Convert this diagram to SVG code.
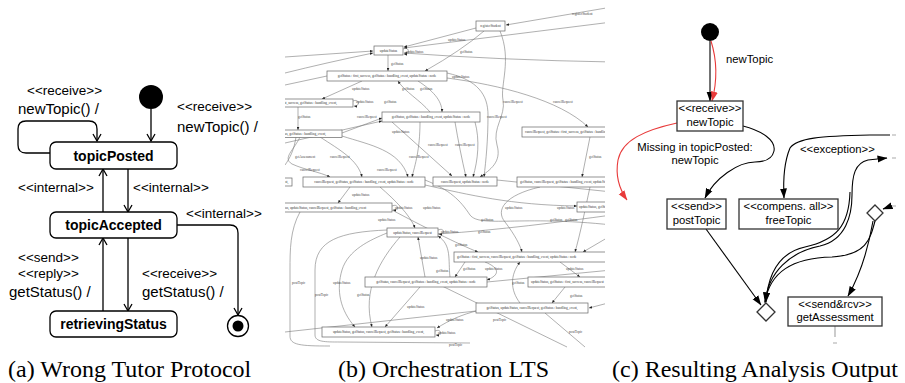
<svg xmlns="http://www.w3.org/2000/svg" width="905" height="383" viewBox="0 0 905 383">
<style>
.sans{font-family:"Liberation Sans",Arial,sans-serif;fill:#000}
.st{font-size:13.5px}
.lb{font-size:15px}
.bn{font-size:14px;font-weight:bold}
.ca{font-family:"Liberation Serif","Times New Roman",serif;font-size:24px;fill:#000}
.sa{fill:#fff;stroke:#000;stroke-width:1.3}
.ea{fill:none;stroke:#000;stroke-width:1.3}
.bb{fill:#fff;stroke:#666;stroke-width:0.7}
.bt{font-family:"Liberation Serif","Times New Roman",serif;font-size:3.4px;fill:#333}
.be{fill:none;stroke:#7a7a7a;stroke-width:0.6}
.bl{font-family:"Liberation Serif","Times New Roman",serif;font-size:3.4px;fill:#444}
.cb{fill:#fff;stroke:#333;stroke-width:1.3}
.ct{font-family:"Liberation Sans",Arial,sans-serif;font-size:11.3px;fill:#000}
.ce{fill:none;stroke:#000;stroke-width:1.1}
.cr{fill:none;stroke:#e83a3a;stroke-width:1.1}
.gd{stroke:#aaa;stroke-width:1.2}
</style>
<defs>
<marker id="va" viewBox="0 0 10 10" markerWidth="10" markerHeight="10" refX="8" refY="5" orient="auto" markerUnits="userSpaceOnUse"><path d="M1,1 L8,5 L1,9" fill="none" stroke="#000" stroke-width="1.3"/></marker>
<marker id="fa" viewBox="0 0 10 8" markerWidth="10" markerHeight="8" refX="9.5" refY="4" orient="auto" markerUnits="userSpaceOnUse"><path d="M0,0.5 L10,4 L0,7.5 z" fill="#000"/></marker>
<marker id="ra" viewBox="0 0 10 8" markerWidth="10" markerHeight="8" refX="9.5" refY="4" orient="auto" markerUnits="userSpaceOnUse"><path d="M0,0.5 L10,4 L0,7.5 z" fill="#e83a3a"/></marker>
<marker id="sa" viewBox="0 0 3 3" markerWidth="3" markerHeight="3" refX="3" refY="1.5" orient="auto" markerUnits="userSpaceOnUse"><path d="M0,0.2 L3,1.5 L0,2.8 z" fill="#222"/></marker>
<clipPath id="clipb"><rect x="285" y="0" width="320" height="352"/></clipPath>
</defs>

<!-- Panel (a) -->
<g id="a-connectors">
<path class="ea" d="M151,109 L151,141" marker-end="url(#va)"/>
<path class="ea" d="M50,153 L26,153 Q18,153 18,145 L18,129 Q18,121 26,121 L89,121 Q97,121 97,129 L97,141" marker-end="url(#va)"/>
<path class="ea" d="M103,212 L103,169" marker-end="url(#va)"/>
<path class="ea" d="M128,169 L128,212" marker-end="url(#va)"/>
<path class="ea" d="M103,311 L103,238" marker-end="url(#va)"/>
<path class="ea" d="M128,238 L128,311" marker-end="url(#va)"/>
<path class="ea" d="M177,225 L230,225 Q238,225 238,233 L238,315" marker-end="url(#va)"/>
</g>
<g id="a-labels" class="sans">
<text class="st" x="27" y="95">&lt;&lt;receive&gt;&gt;</text>
<text class="lb" x="18" y="114">newTopic() /</text>
<text class="st" x="177" y="111">&lt;&lt;receive&gt;&gt;</text>
<text class="lb" x="177" y="132">newTopic() /</text>
<text class="st" x="18" y="192">&lt;&lt;internal&gt;&gt;</text>
<text class="st" x="133" y="192">&lt;&lt;internal&gt;&gt;</text>
<text class="st" x="186" y="218">&lt;&lt;internal&gt;&gt;</text>
<text class="st" x="18" y="262">&lt;&lt;send&gt;&gt;</text>
<text class="st" x="18" y="278">&lt;&lt;reply&gt;&gt;</text>
<text class="lb" x="9" y="297">getStatus() /</text>
<text class="st" x="142" y="278">&lt;&lt;receive&gt;&gt;</text>
<text class="lb" x="142" y="297">getStatus() /</text>
</g>
<g id="a-initial"><circle cx="151" cy="97" r="12" fill="#000"/></g>
<g id="a-topicPosted"><rect class="sa" x="50" y="142" width="127" height="27" rx="6"/><text class="sans bn" x="113.5" y="161" text-anchor="middle">topicPosted</text></g>
<g id="a-topicAccepted"><rect class="sa" x="50" y="212" width="127" height="26" rx="6"/><text class="sans bn" x="113.5" y="230" text-anchor="middle">topicAccepted</text></g>
<g id="a-retrievingStatus"><rect class="sa" x="50" y="311" width="127" height="26" rx="6"/><text class="sans bn" x="113.5" y="329" text-anchor="middle">retrievingStatus</text></g>
<g id="a-final"><circle cx="238" cy="326" r="10.5" fill="#fff" stroke="#000" stroke-width="1.3"/><circle cx="238" cy="326" r="5.5" fill="#000"/></g>

<!-- Panel (b) -->
<g id="b-panel" clip-path="url(#clipb)">
<g id="b-connectors">
<path class="be" d="M612,7 L506,25" marker-end="url(#sa)"/>
<path class="be" d="M476,28 L404,47" marker-end="url(#sa)"/>
<path class="be" d="M484,31 Q462,50 425,71" marker-end="url(#sa)"/>
<path class="be" d="M500,31 C512,60 500,85 503,100 C506,116 492,128 497,145 C502,162 490,170 480,177" marker-end="url(#sa)"/>
<path class="be" d="M285,57 L373,51" marker-end="url(#sa)"/>
<path class="be" d="M285,73 Q325,63 373,53" marker-end="url(#sa)"/>
<path class="be" d="M612,22 L404,48" marker-end="url(#sa)"/>
<path class="be" d="M612,62 Q500,60 404,53" marker-end="url(#sa)"/>
<path class="be" d="M403,49 C410,46 410,55 404,54" marker-end="url(#sa)"/>
<path class="be" d="M388,55 L388,71" marker-end="url(#sa)"/>
<path class="be" d="M362,81 L322,99" marker-end="url(#sa)"/>
<path class="be" d="M430,112 C420,100 405,92 398,81" marker-end="url(#sa)"/>
<path class="be" d="M418,81 C432,90 442,100 442,112" marker-end="url(#sa)"/>
<path class="be" d="M298,107 L298,130" marker-end="url(#sa)"/>
<path class="be" d="M353,101 C360,98 360,107 354,106" marker-end="url(#sa)"/>
<path class="be" d="M447,78 C500,85 560,100 588,127" marker-end="url(#sa)"/>
<path class="be" d="M342,133 L382,118" marker-end="url(#sa)"/>
<path class="be" d="M327,76 L285,85"/>
<path class="be" d="M285,143 L382,121" marker-end="url(#sa)"/>
<path class="be" d="M455,122 C458,140 462,160 466,177" marker-end="url(#sa)"/>
<path class="be" d="M475,122 C480,140 478,160 473,177" marker-end="url(#sa)"/>
<path class="be" d="M447,73 C478,80 488,95 488,115 C488,140 486,160 484,177" marker-end="url(#sa)"/>
<path class="be" d="M300,137 C294,150 282,158 292,164 C305,170 320,172 330,177" marker-end="url(#sa)"/>
<path class="be" d="M320,137 C340,150 358,160 362,177" marker-end="url(#sa)"/>
<path class="be" d="M342,136 C370,145 400,150 408,177" marker-end="url(#sa)"/>
<path class="be" d="M296,137 C294,150 290,158 285,165"/>
<path class="be" d="M420,122 C420,150 415,165 412,177" marker-end="url(#sa)"/>
<path class="be" d="M392,122 L452,176" marker-end="url(#sa)"/>
<path class="be" d="M590,137 L582,177" marker-end="url(#sa)"/>
<path class="be" d="M350,187 L338,203" marker-end="url(#sa)"/>
<path class="be" d="M392,206 C399,203 399,211 393,210" marker-end="url(#sa)"/>
<path class="be" d="M380,187 C395,200 410,215 415,228" marker-end="url(#sa)"/>
<path class="be" d="M425,185 C470,195 510,205 577,206" marker-end="url(#sa)"/>
<path class="be" d="M540,187 C505,195 495,210 505,222 C515,235 520,245 522,252" marker-end="url(#sa)"/>
<path class="be" d="M590,187 C585,210 580,235 575,252" marker-end="url(#sa)"/>
<path class="be" d="M438,234 C500,230 560,222 612,215"/>
<path class="be" d="M392,210 C420,225 460,245 478,252" marker-end="url(#sa)"/>
<path class="be" d="M425,277 L418,237" marker-end="url(#sa)"/>
<path class="be" d="M450,277 C448,260 452,245 438,236" marker-end="url(#sa)"/>
<path class="be" d="M387,233 C370,240 348,250 342,270 C336,290 340,310 355,327" marker-end="url(#sa)"/>
<path class="be" d="M400,237 C380,260 362,290 372,327" marker-end="url(#sa)"/>
<path class="be" d="M387,230 C340,232 315,240 315,270 L315,335 C315,342 325,342 340,342 L470,343"/>
<path class="be" d="M300,212 C290,230 290,250 290,270 L290,336 C290,345 300,346 330,346"/>
<path class="be" d="M420,287 L385,327" marker-end="url(#sa)"/>
<path class="be" d="M480,310 C460,315 450,320 437,328" marker-end="url(#sa)"/>
<path class="be" d="M435,331 C442,328 442,336 436,335" marker-end="url(#sa)"/>
<path class="be" d="M520,303 C510,290 510,275 520,262" marker-end="url(#sa)"/>
<path class="be" d="M565,287 L552,303" marker-end="url(#sa)"/>
<path class="be" d="M560,262 L580,277" marker-end="url(#sa)"/>
<path class="be" d="M465,262 L455,277" marker-end="url(#sa)"/>
<path class="be" d="M485,262 C500,268 500,275 487,280" marker-end="url(#sa)"/>
<path class="be" d="M440,285 L567,347"/>
<path class="be" d="M545,313 L585,347"/>
<path class="be" d="M476,311 L285,332"/>
<path class="be" d="M438,230 C445,227 445,235 439,234" marker-end="url(#sa)"/>
<path class="be" d="M497,180 L612,192"/>
<path class="be" d="M425,180 C450,190 460,200 470,215 C480,228 520,215 612,225"/>
<path class="be" d="M487,282 L612,270"/>
<path class="be" d="M612,235 L583,252" marker-end="url(#sa)"/>
<path class="be" d="M612,302 L589,308" marker-end="url(#sa)"/>
</g>
<g id="b-labels">
<text class="bl" x="572" y="15">registerStudent</text>
<text class="bl" x="448" y="41">updateStatus</text>
<text class="bl" x="460" y="53">getStatus</text>
<text class="bl" x="406" y="53">updateStatus</text>
<text class="bl" x="391" y="65">getStatus</text>
<text class="bl" x="452" y="78">updateStatus</text>
<text class="bl" x="352" y="90">updateStatus</text>
<text class="bl" x="402" y="90">getStatus</text>
<text class="bl" x="420" y="90">getStatus</text>
<text class="bl" x="356" y="103">updateStatus</text>
<text class="bl" x="384" y="103">getStatus</text>
<text class="bl" x="503" y="103">cancelRequest</text>
<text class="bl" x="553" y="103">cancelRequest</text>
<text class="bl" x="298" y="118">getStatus</text>
<text class="bl" x="357" y="118">cancelRequest</text>
<text class="bl" x="487" y="118">cancelRequest</text>
<text class="bl" x="392" y="133">updateStatus</text>
<text class="bl" x="428" y="146">cancelRequest</text>
<text class="bl" x="455" y="146">cancelRequest</text>
<text class="bl" x="295" y="158">getAssessment</text>
<text class="bl" x="330" y="158">cancelRequest</text>
<text class="bl" x="409" y="158">cancelRequest</text>
<text class="bl" x="589" y="158">getStatus</text>
<text class="bl" x="300" y="171">cancelRequest</text>
<text class="bl" x="377" y="171">cancelRequest</text>
<text class="bl" x="352" y="196">updateStatus</text>
<text class="bl" x="395" y="209">updateStatus</text>
<text class="bl" x="423" y="209">updateStatus</text>
<text class="bl" x="505" y="209">updateStatus</text>
<text class="bl" x="557" y="209">updateStatus</text>
<text class="bl" x="378" y="221">updateStatus</text>
<text class="bl" x="481" y="221">getStatus</text>
<text class="bl" x="550" y="221">getStatus</text>
<text class="bl" x="565" y="221">getStatus</text>
<text class="bl" x="441" y="233">updateStatus</text>
<text class="bl" x="478" y="233">getStatus</text>
<text class="bl" x="455" y="246">getStatus</text>
<text class="bl" x="420" y="259">updateStatus</text>
<text class="bl" x="436" y="272">getStatus</text>
<text class="bl" x="463" y="270">getStatus</text>
<text class="bl" x="485" y="270">updateStatus</text>
<text class="bl" x="566" y="270">updateStatus</text>
<text class="bl" x="292" y="284">postTopic</text>
<text class="bl" x="333" y="284">updateStatus</text>
<text class="bl" x="512" y="284">getStatus</text>
<text class="bl" x="315" y="296">postTopic</text>
<text class="bl" x="357" y="296">getStatus</text>
<text class="bl" x="570" y="297">getStatus</text>
<text class="bl" x="407" y="308">updateStatus</text>
<text class="bl" x="446" y="321">updateStatus</text>
<text class="bl" x="493" y="321">postTopic</text>
<text class="bl" x="438" y="334">updateStatus</text>
<text class="bl" x="569" y="333">postTopic</text>
<text class="bl" x="449" y="346">postTopic</text>
</g>
<g id="b-s1"><rect class="bb" x="476" y="21" width="29" height="10"/><text class="bt" x="490.5" y="27.2" text-anchor="middle">registerStudent</text></g>
<g id="b-s2"><rect class="bb" x="374" y="46" width="29" height="9"/><text class="bt" x="388.5" y="51.7" text-anchor="middle">updateStatus</text></g>
<g id="b-s3"><rect class="bb" x="327" y="71" width="120" height="10"/><text class="bt" x="387" y="77.2" text-anchor="middle">getStatus : first_success, getStatus : handling_event, updateStatus : node</text></g>
<g id="b-s4"><rect class="bb" x="250" y="99" width="103" height="8"/><text class="bt" x="301.5" y="104.2" text-anchor="middle">getStatus : first_success, getStatus : handling_event,</text></g>
<g id="b-s5"><rect class="bb" x="382" y="112" width="98" height="10"/><text class="bt" x="431" y="118.2" text-anchor="middle">getStatus, getStatus : handling_event, updateStatus : node</text></g>
<g id="b-s6"><rect class="bb" x="522" y="127" width="150" height="10"/><text class="bt" x="525" y="133.2">cancelRequest, getStatus : first_success, getStatus : handling_event, updateStatus : node</text></g>
<g id="b-s7"><rect class="bb" x="240" y="130" width="102" height="7.5"/><text class="bt" x="291" y="135" text-anchor="middle">updateStatus, getStatus, getStatus : handling_event,</text></g>
<g id="b-s8a"><rect class="bb" x="250" y="178" width="42" height="8"/><text class="bt" x="271" y="183.2" text-anchor="middle">getStatus, cancelRequest,</text></g>
<g id="b-s8"><rect class="bb" x="303" y="177" width="122" height="10"/><text class="bt" x="364" y="183.2" text-anchor="middle">cancelRequest, getStatus, getStatus : handling_event, updateStatus : node</text></g>
<g id="b-s9"><rect class="bb" x="433" y="177" width="64" height="9"/><text class="bt" x="465" y="182.7" text-anchor="middle">cancelRequest, updateStatus : node</text></g>
<g id="b-s10"><rect class="bb" x="517" y="177" width="150" height="10"/><text class="bt" x="520" y="183.2">getStatus, cancelRequest, getStatus : handling_event, updateStatus : node</text></g>
<g id="b-s11"><rect class="bb" x="250" y="203" width="142" height="9"/><text class="bt" x="321" y="208.7" text-anchor="middle">getStatus, updateStatus, cancelRequest, getStatus : handling_event</text></g>
<g id="b-s12"><rect class="bb" x="577" y="202" width="70" height="10"/><text class="bt" x="579" y="208.2">updateStatus, getStatus : handling_event</text></g>
<g id="b-s13"><rect class="bb" x="387" y="228" width="51" height="9"/><text class="bt" x="412.5" y="233.7" text-anchor="middle">updateStatus, cancelRequest</text></g>
<g id="b-s14"><rect class="bb" x="454" y="252" width="158" height="10"/><text class="bt" x="457" y="258.2">getStatus : first_success, cancelRequest, getStatus : handling_event, updateStatus : node</text></g>
<g id="b-s15"><rect class="bb" x="365" y="277" width="122" height="10"/><text class="bt" x="426" y="283.2" text-anchor="middle">getStatus, cancelRequest, getStatus : handling_event, updateStatus : node</text></g>
<g id="b-s16"><rect class="bb" x="528" y="277" width="100" height="10"/><text class="bt" x="531" y="283.2">updateStatus, getStatus : first_success, cancelRequest</text></g>
<g id="b-s17"><rect class="bb" x="476" y="303" width="112" height="10"/><text class="bt" x="532" y="309.2" text-anchor="middle">getStatus, updateStatus, cancelRequest, getStatus : handling_event,</text></g>
<g id="b-s18"><rect class="bb" x="322" y="327" width="113" height="10"/><text class="bt" x="378.5" y="333.2" text-anchor="middle">updateStatus, getStatus, cancelRequest, getStatus : handling_event,</text></g>
</g>

<!-- Panel (c) -->
<g id="c-connectors">
<path class="ce" d="M710,41 L710,101" marker-end="url(#fa)"/>
<path class="cr" d="M711,41 C717,60 717,82 712,101" marker-end="url(#ra)"/>
<path class="cr" d="M677,123 C645,130 622,140 618,160 C615,177 620,190 627,200" marker-end="url(#ra)"/>
<path class="ce" d="M743,126 C762,131 776,140 774,151 C772,160 762,162 755,162 C738,162 715,178 705,198" marker-end="url(#fa)"/>
<path class="ce" d="M890,135 L870,135 C820,136 797,138 790,148 C785,160 783,180 784,198" marker-end="url(#fa)"/>
<path class="ce" d="M765,303 C768,272 790,252 820,246 C846,240 852,215 852,195 C852,175 855,163 868,160 L887,158" marker-end="url(#fa)"/>
<path class="ce" d="M850,192 C849,226 836,240 805,247 C778,253 768,275 766,302" marker-end="url(#fa)"/>
<path class="ce" d="M875,221 C870,240 866,255 832,257 C792,258 770,272 765,302" marker-end="url(#fa)"/>
<path class="ce" d="M891,206 L883,209" marker-end="url(#fa)"/>
<path class="ce" d="M873,221 C868,250 860,275 848,296" marker-end="url(#fa)"/>
<path class="ce" d="M706,229 L761,305" marker-end="url(#fa)"/>
<path class="gd" d="M835,326 L835,337 M833,343 L837,343 M892,135 L896,135 M892,158 L896,158 M892,206 L896,206"/>
</g>
<g id="c-labels">
<text class="ct" x="726" y="63">newTopic</text>
<text class="ct" x="695" y="151" text-anchor="middle">Missing in topicPosted:</text>
<text class="ct" x="695" y="164" text-anchor="middle">newTopic</text>
<text class="ct" x="800" y="153">&lt;&lt;exception&gt;&gt;</text>
</g>
<g id="c-initial"><circle cx="710" cy="32" r="9" fill="#000"/></g>
<g id="c-receive"><rect class="cb" x="677" y="101" width="66" height="30"/><text class="ct" x="710" y="112" text-anchor="middle">&lt;&lt;receive&gt;&gt;</text><text class="ct" x="710" y="126" text-anchor="middle">newTopic</text></g>
<g id="c-postTopic"><rect class="cb" x="667" y="199" width="59" height="30"/><text class="ct" x="696.5" y="210" text-anchor="middle">&lt;&lt;send&gt;&gt;</text><text class="ct" x="696.5" y="224" text-anchor="middle">postTopic</text></g>
<g id="c-freeTopic"><rect class="cb" x="739" y="199" width="99" height="30"/><text class="ct" x="788.5" y="210" text-anchor="middle">&lt;&lt;compens. all&gt;&gt;</text><text class="ct" x="788.5" y="224" text-anchor="middle">freeTopic</text></g>
<g id="c-decision1"><path class="cb" d="M875,205 L883,213 L875,221 L867,213 Z"/></g>
<g id="c-merge"><path class="cb" d="M766,303 L775,312 L766,321 L757,312 Z"/></g>
<g id="c-getAssessment"><rect class="cb" x="788" y="297" width="94" height="29"/><text class="ct" x="835" y="308" text-anchor="middle">&lt;&lt;send&amp;rcv&gt;&gt;</text><text class="ct" x="835" y="321" text-anchor="middle">getAssessment</text></g>

<!-- Captions -->
<g id="captions">
<text class="ca" x="8" y="377">(a) Wrong Tutor Protocol</text>
<text class="ca" x="338" y="377">(b) Orchestration LTS</text>
<text class="ca" x="612" y="377">(c) Resulting Analysis Output</text>
</g>
</svg>
